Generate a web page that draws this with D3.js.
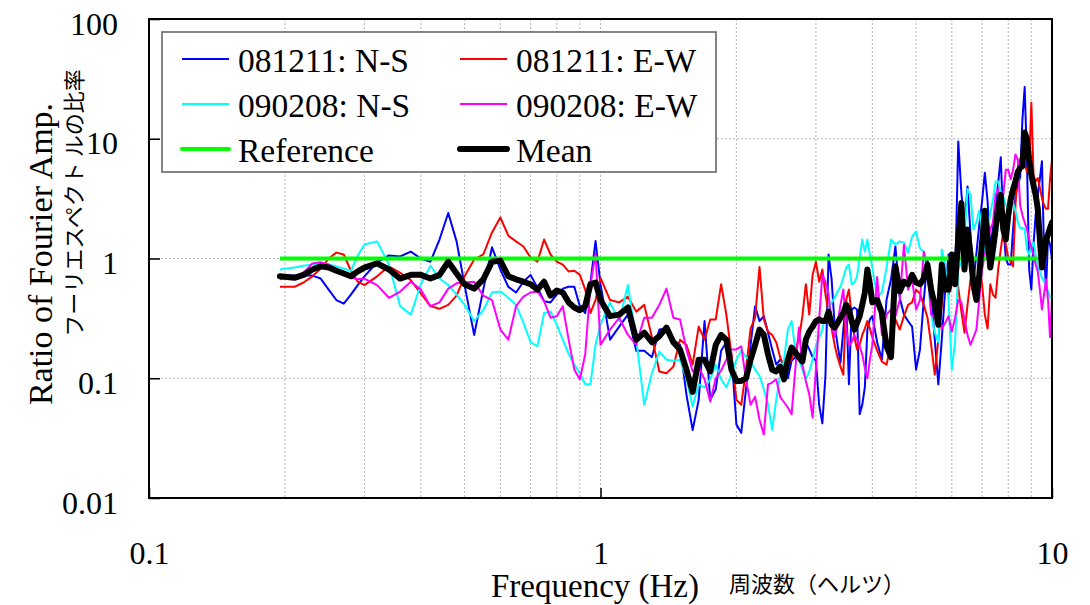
<!DOCTYPE html>
<html><head><meta charset="utf-8">
<script src="https://cdn.jsdelivr.net/npm/d3@7"></script>
<style>
html,body{margin:0;padding:0;background:#fff;}
svg{display:block;}
</style></head><body>
<svg id="chart" width="1090" height="605"></svg>
<script>
// ---------- DATA ----------
const freq = [
 0.195,0.21,0.22,0.23,0.24,0.25,0.26,0.27,0.28,0.29,0.30,
 0.32,0.34,0.36,0.38,0.40,0.42,0.44,0.46,0.48,0.50,
 0.525,0.55,0.575,0.60,0.625,0.65,0.675,0.70,0.725,0.75,0.775,0.80,0.825,0.85,0.875,0.90,0.925,0.95,0.975,1.00,
 1.05,1.10,1.15,1.20,1.25,1.30,1.35,1.40,1.45,1.50,1.55,1.60,1.65,1.70,1.75,1.80,1.85,1.90,1.95,2.00,
 2.05,2.10,2.15,2.20,2.25,2.30,2.35,2.40,2.45,2.50,2.55,2.60,2.65,2.70,2.75,2.80,2.85,2.90,2.95,3.00,
 3.05,3.10,3.15,3.20,3.25,3.30,3.35,3.40,3.45,3.50,3.55,3.60,3.65,3.70,3.75,3.80,3.85,3.90,3.95,4.00,
 4.1,4.2,4.3,4.4,4.5,4.6,4.7,4.8,4.9,5.0,5.1,5.2,5.3,5.4,5.5,5.6,5.7,5.8,5.9,6.0,
 6.1,6.2,6.3,6.4,6.5,6.6,6.7,6.8,6.9,7.0,7.1,7.2,7.3,7.4,7.5,7.6,7.7,7.8,7.9,8.0,
 8.1,8.2,8.3,8.4,8.5,8.6,8.7,8.8,8.9,9.0,9.1,9.2,9.3,9.4,9.5,9.6,9.7,9.8,9.9,10.0
];

const ns081211 = [
 0.72,0.72,0.72,0.72,0.68,0.55,0.45,0.42,0.50,0.60,0.71,
 0.93,1.06,1.04,1.14,1.0,0.94,1.44,2.4,1.39,0.6,
 0.23,0.55,1.24,0.81,0.58,0.52,0.64,0.73,0.57,0.44,0.43,0.50,0.56,0.58,0.58,0.40,0.35,0.63,1.4,0.61,
 0.21,0.27,0.34,0.17,0.17,0.15,0.255,0.26,0.21,0.19,0.073,0.037,0.066,0.3,0.066,0.081,0.17,0.2,0.158,0.041,
 0.035,0.081,0.19,0.40,0.30,0.33,0.24,0.174,0.13,0.143,0.13,0.10,0.14,0.15,0.15,0.174,0.2,0.174,0.15,0.14,
 0.06,0.042,0.107,1.08,0.67,0.28,0.19,0.135,0.255,0.45,0.089,0.375,0.39,0.375,0.05,0.06,0.084,0.255,0.31,0.33,
 0.2,0.143,0.45,0.67,1.26,0.47,0.34,0.30,0.27,0.118,0.174,0.45,0.98,0.50,0.21,0.089,0.21,0.55,1.08,0.98,
 0.63,9.5,3.5,1.9,4.0,1.6,0.63,1.1,1.9,3.0,5.2,3.0,1.2,1.8,2.7,4.3,7.0,2.0,1.0,0.89,
 0.89,1.75,3.3,4.1,4.8,14.5,27,6.7,0.81,0.55,1.31,2.3,3.4,4.6,6.5,1.19,0.55,1.5,1.31,0.98
];

const ew081211 = [
 0.58,0.58,0.63,0.71,0.82,1.0,1.12,1.08,0.79,0.64,0.6,
 0.71,0.86,0.76,0.66,0.51,0.40,0.38,0.41,0.49,0.71,
 0.98,1.08,1.65,2.2,1.55,1.39,1.26,1.02,0.94,1.44,1.08,0.94,0.89,0.78,0.79,0.73,0.55,0.35,0.45,0.69,
 0.45,0.43,0.48,0.36,0.41,0.22,0.114,0.11,0.125,0.21,0.19,0.13,0.27,0.21,0.31,0.31,0.61,0.34,0.158,0.066,
 0.06,0.118,0.26,0.32,0.85,0.31,0.245,0.23,0.2,0.15,0.125,0.128,0.143,0.174,0.21,0.33,0.61,0.34,0.73,0.94,
 0.64,0.81,0.50,0.35,0.26,0.19,0.15,0.125,0.107,0.45,0.55,0.33,0.22,0.174,0.19,0.23,0.26,0.30,0.26,0.22,
 0.17,0.138,0.13,0.19,0.31,0.255,0.33,0.41,0.43,0.55,0.51,0.41,0.32,0.19,0.107,0.21,0.41,0.71,0.50,0.61,
 1.04,0.57,0.36,0.24,0.41,0.67,0.50,0.55,0.89,0.61,0.34,0.26,0.61,0.50,0.47,0.81,1.19,1.68,1.31,1.02,
 0.94,0.86,2.8,5.7,6.7,7.7,6.1,5.3,6.0,20,5.0,4.4,4.7,3.9,3.2,2.8,2.6,2.6,4.6,6.7
];

const ns090208 = [
 0.81,0.84,0.87,0.89,0.89,0.89,0.86,0.82,0.79,1.06,1.31,
 1.39,0.89,0.40,0.34,0.61,0.87,0.68,0.60,0.50,0.41,
 0.30,0.37,0.52,0.53,0.47,0.41,0.29,0.2,0.185,0.35,0.36,0.28,0.21,0.16,0.13,0.11,0.089,0.089,0.19,0.28,
 0.43,0.3,0.6,0.21,0.06,0.11,0.167,0.143,0.14,0.143,0.1,0.058,0.089,0.084,0.098,0.13,0.098,0.084,0.107,0.143,
 0.17,0.15,0.14,0.118,0.105,0.081,0.06,0.037,0.066,0.107,0.143,0.255,0.30,0.174,0.143,0.118,0.098,0.114,0.143,0.186,
 0.22,0.255,0.34,0.38,0.43,0.47,0.53,0.58,0.69,0.84,0.89,0.61,0.63,0.71,1.02,1.44,1.14,1.44,1.08,0.84,
 0.48,0.52,0.84,1.44,1.31,1.39,1.36,1.12,1.52,1.68,1.21,1.14,0.73,0.34,0.24,0.2,1.19,0.89,0.45,0.118,
 0.2,0.81,0.94,1.44,3.8,3.4,1.75,2.0,2.5,1.68,1.08,1.68,2.4,3.1,4.4,4.4,3.6,3.3,2.8,2.6,
 2.8,2.9,2.5,2.0,1.8,1.8,1.75,1.19,1.08,1.24,1.36,1.08,0.87,0.78,0.69,0.64,0.61,0.53,0.48,0.45
];

const ew090208 = [
 0.67,0.71,0.76,0.91,0.93,0.89,0.82,0.73,0.69,0.67,0.68,
 0.6,0.47,0.53,0.64,0.55,0.40,0.43,0.56,0.62,0.63,
 0.64,0.49,0.45,0.255,0.21,0.40,0.48,0.52,0.53,0.44,0.32,0.33,0.40,0.21,0.118,0.098,0.158,0.6,1.1,0.19,
 0.255,0.32,0.23,0.19,0.32,0.32,0.41,0.56,0.32,0.31,0.174,0.114,0.125,0.098,0.064,0.1,0.116,0.143,0.174,0.174,
 0.185,0.098,0.06,0.07,0.045,0.034,0.089,0.092,0.098,0.07,0.063,0.057,0.05,0.118,0.265,0.13,0.095,0.073,0.047,0.118,
 0.31,0.73,0.64,0.50,0.28,0.22,0.28,0.41,0.55,0.255,0.19,0.2,0.23,0.21,0.185,0.158,0.122,0.1,0.143,0.19,
 0.7,0.23,0.34,0.375,0.33,0.45,1.3,0.55,0.67,0.375,0.45,1.14,0.84,0.34,0.32,0.35,0.26,0.29,0.33,0.245,
 0.32,0.45,0.43,0.31,0.23,0.19,0.22,0.255,0.45,0.81,1.08,1.36,1.75,2.0,3.4,3.8,2.8,3.4,5.5,5.5,
 4.6,5.5,7.4,6.7,2.8,2.3,2.0,1.75,1.44,1.24,1.08,0.89,0.78,0.55,0.375,0.50,0.67,0.45,0.22,0.45
];

const meanRatio = [
 0.71,0.69,0.73,0.81,0.86,0.84,0.79,0.75,0.71,0.78,0.84,
 0.91,0.81,0.68,0.73,0.73,0.68,0.73,0.94,0.75,0.61,
 0.56,0.67,0.94,0.96,0.71,0.67,0.64,0.61,0.55,0.64,0.49,0.54,0.52,0.43,0.39,0.37,0.40,0.61,0.63,0.45,
 0.33,0.34,0.39,0.21,0.24,0.2,0.225,0.265,0.2,0.174,0.118,0.077,0.143,0.143,0.114,0.19,0.23,0.21,0.118,0.095,
 0.095,0.1,0.143,0.19,0.255,0.23,0.158,0.118,0.114,0.125,0.098,0.143,0.18,0.165,0.15,0.138,0.21,0.245,0.27,0.30,
 0.31,0.30,0.30,0.36,0.28,0.265,0.29,0.32,0.35,0.41,0.375,0.30,0.255,0.29,0.33,0.41,0.52,0.81,0.61,0.43,
 0.45,0.35,0.185,0.15,0.86,0.53,0.64,0.61,0.73,0.63,0.61,0.68,0.89,0.55,0.41,0.28,0.89,0.55,0.55,1.08,
 0.61,1.44,2.9,0.81,1.75,1.08,0.61,0.45,0.73,1.36,2.5,1.44,0.84,1.19,1.75,2.7,3.4,1.75,1.44,2.3,
 3.1,3.8,4.4,5.3,5.7,5.9,11.3,9.9,6.7,5.0,4.1,3.4,2.6,1.44,0.84,1.08,1.44,1.59,1.8,2.0
];

const refFreq = [0.195, 9.3];
const refRatio = [1, 1];

const xTickValues = [0.1, 1, 10];
const xTickLabels = ["0.1", "1", "10"];
const yTickValues = [0.01, 0.1, 1, 10, 100];
const yTickLabels = ["0.01", "0.1", "1", "10", "100"];
const seriesNames = ["081211: N-S", "081211: E-W", "090208: N-S", "090208: E-W", "Reference", "Mean"];

// ---------- STYLE / LAYOUT ----------
const seriesColors = ["#0000ff", "#ff0000", "#00ffff", "#ff00ff", "#00ff00", "#000000"];
const seriesWidths = [2, 2, 2, 2, 4, 6];
const serif = "'Liberation Serif','Times New Roman',serif";
const cjk = "'Noto Sans CJK JP','Noto Sans CJK SC',sans-serif";

const L = 149, R = 1052, T = 19, B = 498;
const svg = d3.select("#chart");
const x = d3.scaleLog().domain([0.1, 10]).range([L, R]);
const y = d3.scaleLog().domain([0.01, 100]).range([B, T]);

// clip
svg.append("defs").append("clipPath").attr("id", "plotclip")
  .append("rect").attr("x", L).attr("y", T).attr("width", R - L).attr("height", B - T);

// grid
const gridG = svg.append("g");
const minorX = x.ticks().filter(d => d > 0.1 + 1e-9 && d < 10 - 1e-9);
gridG.selectAll("line.vx").data(minorX).join("line")
  .attr("x1", d => x(d)).attr("x2", d => x(d)).attr("y1", T).attr("y2", B)
  .attr("stroke", "#b4b4b4").attr("stroke-width", 1).attr("stroke-dasharray", "2,2");
gridG.selectAll("line.hy").data(yTickValues.filter(d => d > 0.01 && d < 100)).join("line")
  .attr("x1", L).attr("x2", R).attr("y1", d => y(d)).attr("y2", d => y(d))
  .attr("stroke", "#b4b4b4").attr("stroke-width", 1).attr("stroke-dasharray", "2,2");

// axes
const yAxis = d3.axisLeft(y).tickValues(yTickValues).tickFormat((d, i) => yTickLabels[i]).tickSize(-11).tickPadding(31);
const yg = svg.append("g").attr("transform", `translate(${L},0)`).call(yAxis);
yg.select(".domain").remove();
yg.selectAll(".tick line").attr("stroke", "#000").attr("stroke-width", 1.5);
yg.selectAll(".tick text").attr("font-family", serif).attr("font-size", 32).attr("fill", "#000").attr("dy", "0.47em");

const xAxis = d3.axisBottom(x).tickValues(xTickValues).tickFormat((d, i) => xTickLabels[i]).tickSize(-10).tickPadding(43);
const xg = svg.append("g").attr("transform", `translate(0,${B})`).call(xAxis);
xg.select(".domain").remove();
xg.selectAll(".tick line").attr("stroke", "#000").attr("stroke-width", 1.5);
xg.selectAll(".tick text").attr("font-family", serif).attr("font-size", 32).attr("fill", "#000");

// series
const allSeries = [ns081211, ew081211, ns090208, ew090208];
const line = d3.line().x(d => x(d[0])).y(d => y(d[1]));
const plotG = svg.append("g").attr("clip-path", "url(#plotclip)");
allSeries.forEach((vals, i) => {
  const pts = freq.map((f, k) => [f, vals[k]]);
  plotG.append("path").datum(pts).attr("d", line)
    .attr("fill", "none").attr("stroke", seriesColors[i]).attr("stroke-width", seriesWidths[i])
    .attr("stroke-linejoin", "round");
});
plotG.append("path").datum(refFreq.map((f, k) => [f, refRatio[k]])).attr("d", line)
  .attr("fill", "none").attr("stroke", seriesColors[4]).attr("stroke-width", seriesWidths[4]);
plotG.append("path").datum(freq.map((f, k) => [f, meanRatio[k]])).attr("d", line)
  .attr("fill", "none").attr("stroke", seriesColors[5]).attr("stroke-width", seriesWidths[5])
  .attr("stroke-linejoin", "round").attr("stroke-linecap", "round");

// frame
svg.append("rect").attr("x", L).attr("y", T).attr("width", R - L).attr("height", B - T)
  .attr("fill", "none").attr("stroke", "#000").attr("stroke-width", 2);

// legend
const lg = svg.append("g");
lg.append("rect").attr("x", 162).attr("y", 32).attr("width", 554).attr("height", 140)
  .attr("fill", "#fff").attr("stroke", "#666").attr("stroke-width", 1.6);
const rowsY = [59, 104, 149];
const colX = [182, 460];
seriesNames.forEach((name, i) => {
  const r = Math.floor(i / 2), c = i % 2;
  const cy = rowsY[r];
  lg.append("line").attr("x1", colX[c]).attr("x2", colX[c] + 47).attr("y1", cy).attr("y2", cy)
    .attr("stroke", seriesColors[i]).attr("stroke-width", i >= 4 ? seriesWidths[i] : 2)
    .attr("stroke-linecap", i >= 4 ? "round" : "butt");
  lg.append("text").attr("x", colX[c] + 56).attr("y", cy + 12.5).text(name)
    .attr("font-family", serif).attr("font-size", 33.5).attr("fill", "#000");
});

// axis titles
svg.append("text").attr("transform", "translate(52,254) rotate(-90)").attr("text-anchor", "middle")
  .attr("font-family", serif).attr("font-size", 34).attr("fill", "#000").text("Ratio of Fourier Amp.");
svg.append("text").attr("transform", "translate(82,203) rotate(-90)").attr("text-anchor", "middle")
  .attr("font-family", cjk).attr("font-size", 22).attr("fill", "#000").text("フーリエスペクト ルの比率");
svg.append("text").attr("x", 491).attr("y", 597)
  .attr("font-family", serif).attr("font-size", 33).attr("fill", "#000").text("Frequency (Hz)");
svg.append("text").attr("x", 729).attr("y", 592)
  .attr("font-family", cjk).attr("font-size", 22).attr("fill", "#000").text("周波数（ヘルツ）");
</script>
</body></html>
